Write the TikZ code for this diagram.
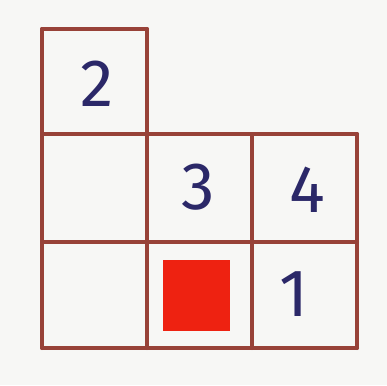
\documentclass[tikz,border=0pt]{standalone}
\usepackage{fontspec}
\setmainfont{Fira Sans}
\definecolor{paper}{HTML}{F7F7F5}
\definecolor{ink}{HTML}{984238}
\definecolor{pen}{HTML}{2B2868}
\definecolor{redsq}{HTML}{EE2211}
\begin{document}
\begin{tikzpicture}[x=1pt,y=-1pt,
  gridline/.style={draw=ink,line width=4pt,line cap=round},
  digit/.style={text=pen,font=\fontsize{67}{67}\selectfont,inner sep=0pt}]
\fill[paper] (0,0) rectangle (387,385);
\useasboundingbox (0,0) rectangle (387,385);
% coordinates
\coordinate (a0) at (42,29);
\coordinate (b0) at (147,29);
\coordinate (a1) at (42,134);
\coordinate (b1) at (147,134);
\coordinate (c1) at (252,134);
\coordinate (d1) at (357,134);
\coordinate (a2) at (42,242);
\coordinate (d2) at (357,242);
\coordinate (a3) at (42,348);
\coordinate (b3) at (147,348);
\coordinate (c3) at (252,348);
\coordinate (d3) at (357,348);
% lines
\draw[gridline] (a0) -- (b0);
\draw[gridline] (a1) -- (d1);
\draw[gridline] (a2) -- (d2);
\draw[gridline] (a3) -- (d3);
\draw[gridline] (a0) -- (a3);
\draw[gridline] (b0) -- (b3);
\draw[gridline] (c1) -- (c3);
\draw[gridline] (d1) -- (d3);
% red square
\fill[redsq] (163,260) rectangle (230,331);
% digits
\node[digit] (n2) at (97,84) {2};
\node[digit] (n3) at (198,187) {3};
\node[digit] (n4) at (307,190) {4};
\node[digit] (n1) at (294,294) {1};
\end{tikzpicture}
\end{document}
